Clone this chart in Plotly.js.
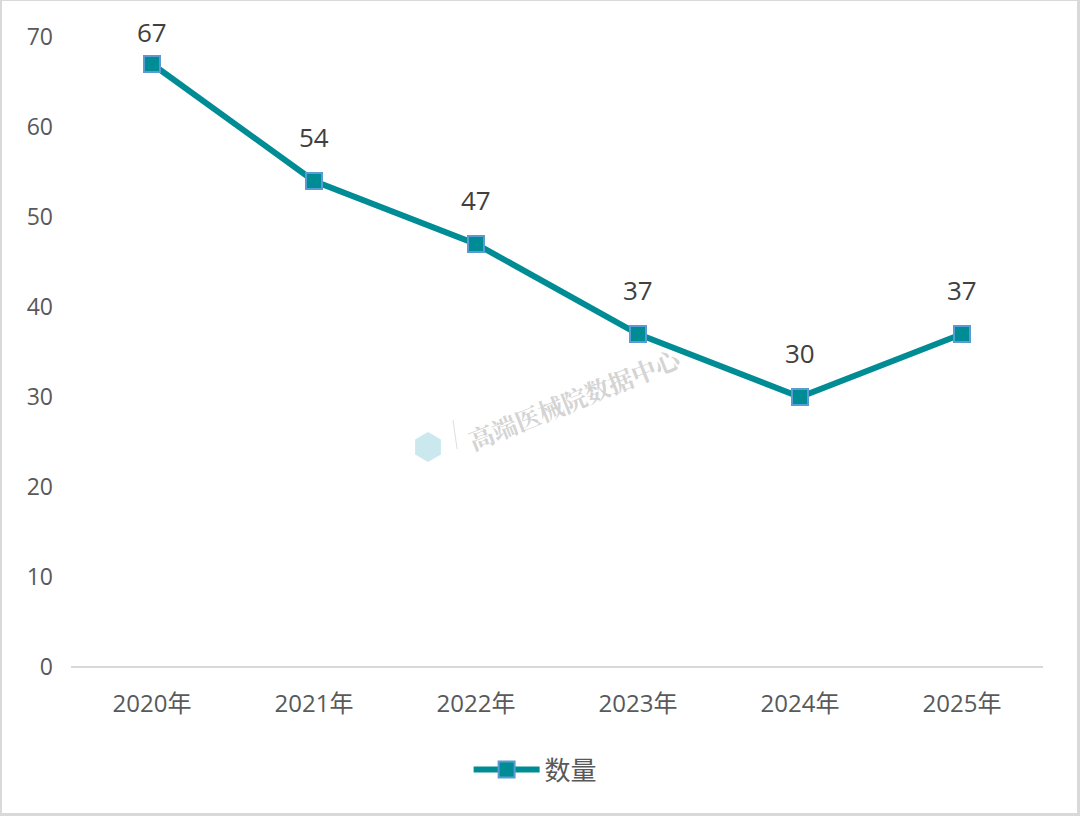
<!DOCTYPE html>
<html>
<head>
<meta charset="utf-8">
<script src="https://cdn.plot.ly/plotly-3.0.1.min.js"></script>
<style>
  html, body { margin: 0; padding: 0; background: #fff; }
  #wrap { position: relative; width: 1080px; height: 816px; }
  #chart { width: 1080px; height: 816px; }
  #frame { position: absolute; left: 0; top: 0; width: 1080px; height: 816px; border: 1px solid #d9d9d9; border-left-width: 2px; border-right-width: 3px; border-bottom-width: 3px; box-sizing: border-box; pointer-events: none; }
</style>
</head>
<body>
<div id="wrap">
  <div id="chart"></div>
  <div id="frame"></div>
</div>
<script>
const years = ['2020年', '2021年', '2022年', '2023年', '2024年', '2025年'];
const counts = [67, 54, 47, 37, 30, 37];
const seriesName = '数量';
const yTicks = [0, 10, 20, 30, 40, 50, 60, 70];

const FONT = 'Open Sans, "Noto Sans CJK SC", sans-serif';
const teal = '#008C95';

const marginTop = 37, marginBottom = 149;
const plotH = 816 - marginTop - marginBottom;
const yMax = 70;

const trace = {
  x: years,
  y: counts,
  name: seriesName,
  type: 'scatter',
  mode: 'lines+markers',
  line: { color: teal, width: 6 },
  marker: { symbol: 'square', size: 16, color: teal, line: { color: '#5B9BD5', width: 2 } },
  cliponaxis: false
};

// data labels above each point (kept inside the chart near the top, like the original)
const labelAnnotations = years.map((yr, i) => {
  const pxFromTop = (yMax - counts[i]) / yMax * plotH;
  const shift = Math.min(44, pxFromTop + marginTop - 32);
  return {
    x: yr, y: counts[i], xref: 'x', yref: 'y',
    text: String(counts[i]),
    showarrow: false,
    yshift: shift,
    font: { family: FONT, size: 26, color: '#404040' }
  };
});

const layout = {
  width: 1080,
  height: 816,
  margin: { l: 71, r: 37, t: marginTop, b: marginBottom },
  paper_bgcolor: '#ffffff',
  plot_bgcolor: '#ffffff',
  font: { family: FONT, color: '#595959' },
  showlegend: true,
  legend: {
    orientation: 'h',
    x: 0.478, xanchor: 'center',
    y: -0.163, yanchor: 'middle',
    font: { family: FONT, size: 26, color: '#595959' },
    itemwidth: 66
  },
  xaxis: {
    type: 'category',
    range: [-0.5, 5.5],
    showgrid: false,
    zeroline: false,
    showline: false,
    ticks: '',
    ticklabelstandoff: 20,
    tickfont: { family: FONT, size: 24, color: '#595959' }
  },
  yaxis: {
    range: [0, yMax],
    tickvals: yTicks,
    showgrid: false,
    zeroline: true,
    zerolinecolor: '#d9d9d9',
    zerolinewidth: 2,
    showline: false,
    ticks: '',
    ticklabelstandoff: 17,
    tickfont: { family: FONT, size: 23, color: '#595959' }
  },
  annotations: labelAnnotations.concat([
    {
      xref: 'paper', yref: 'paper',
      x: 0.5185, y: 0.427,
      text: '<b>高端医械院数据中心</b>',
      showarrow: false,
      textangle: -22,
      font: { family: '"Noto Serif CJK SC", "Noto Sans CJK SC", serif', size: 25, color: 'rgba(175,175,175,0.55)' }
    }
  ]),
  shapes: [
    {
      type: 'path', xref: 'paper', yref: 'paper',
      path: 'M 0.3673 0.3730 L 0.3806 0.3611 L 0.3806 0.3373 L 0.3673 0.3254 L 0.3540 0.3373 L 0.3540 0.3611 Z',
      fillcolor: 'rgba(110,190,210,0.35)',
      line: { width: 0 }
    },
    {
      type: 'line', xref: 'paper', yref: 'paper',
      x0: 0.3930, y0: 0.3921, x1: 0.3972, y1: 0.3460,
      line: { color: 'rgba(200,200,200,0.6)', width: 1 }
    }
  ]
};

Plotly.newPlot('chart', [trace], layout, { displayModeBar: false, staticPlot: true });
</script>
</body>
</html>
